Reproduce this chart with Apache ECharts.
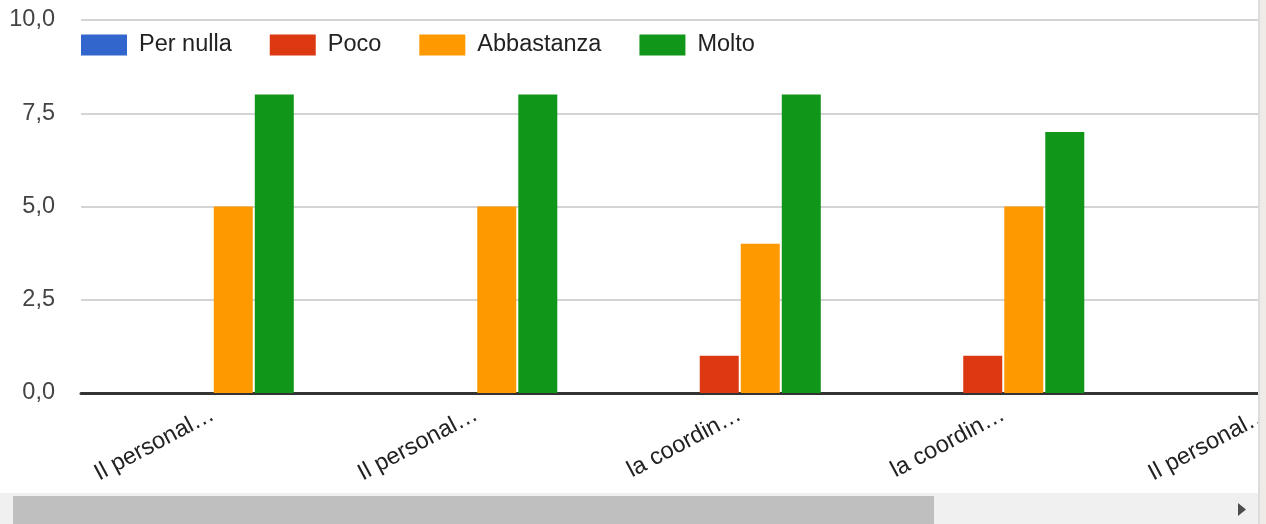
<!DOCTYPE html>
<html>
<head>
<meta charset="utf-8">
<script src="https://cdn.jsdelivr.net/npm/echarts@6/dist/echarts.min.js"></script>
<style>
html,body{margin:0;padding:0;background:#fff;}
#c{width:1266px;height:524px;}
</style>
</head>
<body>
<div id="c"></div>
<script>
const categories = ['Il personal…', 'Il personal…', 'la coordin…', 'la coordin…', 'Il personal…', 'la coordin…'];
const seriesNames = ['Per nulla', 'Poco', 'Abbastanza', 'Molto'];
const perNulla = [0, 0, 0, 0, 0, 0];
const poco = [0, 0, 1, 1, 0, 0];
const abbastanza = [5, 5, 4, 5, 5, 4];
const molto = [8, 8, 8, 7, 8, 8];
const yTicks = [0, 2.5, 5, 7.5, 10];

const colors = ['#3366cc', '#dc3912', '#ff9900', '#109618'];
const values = [perNulla, poco, abbastanza, molto];
const FONT = '"Liberation Sans", Arial, sans-serif';

const chart = echarts.init(document.getElementById('c'), null, {renderer: 'canvas'});
chart.setOption({
  animation: false,
  color: colors,
  legend: {
    left: 81, top: 33, padding: 0,
    itemWidth: 46, itemHeight: 21, itemGap: 38,
    icon: 'rect',
    textStyle: {fontFamily: FONT, fontSize: 23.5, color: '#222', padding: [0, 0, 0, 7]},
    data: seriesNames
  },
  grid: {left: 81, top: 20, width: 263.5 * categories.length, height: 373, containLabel: false, outerBoundsMode: 'none'},
  xAxis: {
    type: 'category',
    data: categories,
    axisTick: {show: false},
    axisLine: {lineStyle: {color: '#333', width: 3}},
    axisLabel: {rotate: 28, margin: 20, fontFamily: FONT, fontSize: 23.5, color: '#222', interval: 0}
  },
  yAxis: {
    type: 'value',
    min: yTicks[0], max: yTicks[yTicks.length - 1], interval: 2.5,
    axisLine: {show: false},
    axisTick: {show: false},
    splitLine: {lineStyle: {color: '#d4d4d4', width: 2}},
    axisLabel: {margin: 26, fontFamily: FONT, fontSize: 23.5, color: '#444',
      formatter: v => v.toFixed(1).replace('.', ',')}
  },
  series: seriesNames.map((n, i) => ({
    name: n, type: 'bar', data: values[i],
    barWidth: 39, barGap: '5.2%'
  })),
  graphic: [
    {type: 'rect', z: 100, shape: {x: 0, y: 493, width: 1258, height: 31}, style: {fill: '#f0f0f0'}},
    {type: 'rect', z: 101, shape: {x: 13, y: 496, width: 921, height: 28}, style: {fill: '#bfbfbf'}},
    {type: 'polygon', z: 101, shape: {points: [[1238, 503], [1246, 509.5], [1238, 516]]}, style: {fill: '#4d4d4d'}},
    {type: 'rect', z: 100, shape: {x: 1258, y: 0, width: 8, height: 524}, style: {fill: '#efebe6'}},
    {type: 'rect', z: 101, shape: {x: 1258, y: 0, width: 2, height: 524}, style: {fill: '#dcdce0'}}
  ]
});
</script>
</body>
</html>
